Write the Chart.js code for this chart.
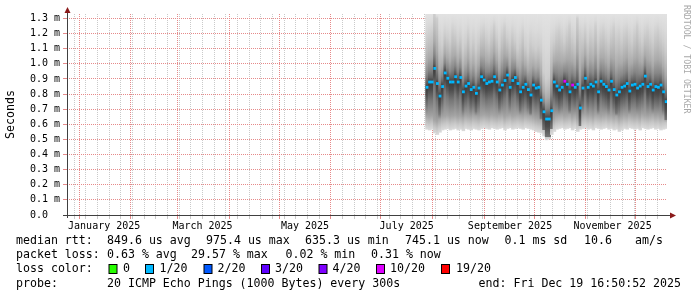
<!DOCTYPE html>
<html>
<head>
<meta charset="utf-8">
<script src="https://cdn.jsdelivr.net/npm/chart.js@4"></script>
<style>
  html, body { margin: 0; padding: 0; background: #fff; }
  canvas { display: block; }
</style>
</head>
<body>
<canvas id="grafico" width="697" height="297"></canvas>
<script>
// median rtt per bucket (ms), from Jul 28 to Dec 19 2025
const medianRtt = [
  0.845, 0.88, 0.88, 0.97, 0.87, 0.787, 0.85, 0.94, 0.905, 0.88, 0.88, 0.915, 0.88, 0.91, 0.815, 0.853, 0.87, 0.83, 0.845, 0.805, 0.84, 0.915,
  0.893, 0.87, 0.88, 0.885, 0.915, 0.88, 0.827, 0.86, 0.89, 0.926, 0.845, 0.89, 0.91, 0.87, 0.815, 0.845, 0.865, 0.83, 0.794, 0.86, 0.84, 0.845, 0.76,
  0.683, 0.635, 0.635, 0.69, 0.88, 0.853, 0.827, 0.845, 0.885, 0.865, 0.815, 0.86, 0.845, 0.865, 0.708, 0.84, 0.905, 0.845, 0.865, 0.853, 0.88, 0.815, 0.885, 0.865, 0.85, 0.827,
  0.885, 0.83, 0.794, 0.815, 0.845, 0.853, 0.87, 0.82, 0.86, 0.865, 0.84, 0.853, 0.865, 0.919, 0.85, 0.865, 0.827, 0.85, 0.845, 0.86, 0.815, 0.75
];
// lost pings (out of 20) for each bucket
const lossPings = [
  1, 1, 1, 1, 1, 1, 1, 1, 1, 1, 1, 1, 1, 1, 1, 1, 1, 1, 1, 1, 1, 1,
  1, 1, 1, 1, 1, 1, 1, 1, 1, 1, 1, 1, 1, 1, 1, 1, 1, 1, 1, 1, 1, 1, 1,
  1, 1, 1, 1, 1, 1, 1, 1, 10, 1, 1, 10, 1, 1, 1, 1, 1, 1, 1, 1, 1, 1, 1, 1, 1, 1,
  1, 1, 1, 1, 1, 1, 1, 1, 1, 1, 1, 1, 1, 1, 1, 1, 1, 1, 1, 1, 1, 1
];
// lowest ping of each bucket (bottom of the smoke)
const smokeLow = [
  0.565, 0.56, 0.565, 0.54, 0.53, 0.545, 0.56, 0.565, 0.57, 0.56, 0.565,
  0.57, 0.56, 0.565, 0.555, 0.57, 0.565, 0.56, 0.57, 0.565, 0.56, 0.57,
  0.575, 0.57, 0.565, 0.575, 0.57, 0.565, 0.57, 0.575, 0.56, 0.57, 0.575,
  0.565, 0.57, 0.575, 0.57, 0.565, 0.575, 0.57, 0.565, 0.56, 0.55, 0.545,
  0.54, 0.52, 0.495, 0.5, 0.53, 0.55,
  0.565, 0.57, 0.575, 0.565, 0.57, 0.575, 0.56, 0.57, 0.55, 0.565, 0.57, 0.575, 0.565,
  0.57, 0.56, 0.575, 0.57, 0.565, 0.57, 0.575, 0.565, 0.57, 0.56, 0.565, 0.55,
  0.56, 0.57, 0.565, 0.575, 0.57, 0.565, 0.57, 0.56, 0.575, 0.57, 0.565, 0.57, 0.575, 0.565, 0.57, 0.56, 0.565, 0.57
];
// upper edge of the dense part of the smoke
const smokeHigh = [
  1.18, 1.2, 1.22, 1.33, 1.3, 1.15, 1.12, 1.2, 1.18, 1.15, 1.22,
  1.2, 1.15, 1.18, 1.1, 1.14, 1.2, 1.12, 1.16, 1.1, 1.15, 1.2,
  1.22, 1.18, 1.15, 1.2, 1.25, 1.18, 1.12, 1.2, 1.24, 1.18, 1.15,
  1.2, 1.16, 1.1, 1.14, 1.2, 1.12, 1.08, 1.15, 1.12, 1.1, 1.12,
  1.1, 0.95, 0.9, 0.92, 1.12, 1.15,
  1.2, 1.22, 1.18, 1.15, 1.2, 1.25, 1.18, 1.15, 1.3, 1.2, 1.18, 1.22, 1.15,
  1.2, 1.18, 1.25, 1.15, 1.2, 1.22, 1.18, 1.15, 1.2, 1.24, 1.18, 1.2,
  1.16, 1.2, 1.22, 1.18, 1.15, 1.2, 1.25, 1.18, 1.15, 1.2, 1.22, 1.18, 1.15, 1.2, 1.22, 1.18, 1.15, 1.1
];

const firstDay = 208.7;   // days after Jan 1 2025
const stepDays = 1.56;
const dayMin = -7.3;      // 360 days ending Dec 19 16:50
const dayMax = 352.7;
const yMax = 1.33;
const yTicks = [0, 0.1, 0.2, 0.3, 0.4, 0.5, 0.6, 0.7, 0.8, 0.9, 1.0, 1.1, 1.2, 1.3];
const monthStarts = [0, 31, 59, 90, 120, 151, 181, 212, 243, 273, 304, 334];
const monthLabels = ['January 2025', 'March 2025', 'May 2025', 'July 2025', 'September 2025', 'November 2025'];
const labelDays = [15, 74, 135.5, 196.5, 258.5, 320];
const firstSunday = -3;

const lossColors = { 0: '#26ff00', 1: '#00b8ff', 2: '#0059ff', 3: '#5e00ff', 4: '#7e00ff', 10: '#dd00ff', 19: '#ff0000' };
const lossLegend = ['0', '1/20', '2/20', '3/20', '4/20', '10/20', '19/20'];
const lossLegendKeys = [0, 1, 2, 3, 4, 10, 19];

const MONO = '"DejaVu Sans Mono", monospace';
const MGRID = '#e68a8a';
const GRID = '#cacaca';

const dayX = i => firstDay + i * stepDays;

// x ticks: weekly minor lines, then month lines, then label-only ticks
const xTicks = [];
for (let d = firstSunday; d <= dayMax; d += 7) {
    if (!monthStarts.includes(d)) xTicks.push({ value: d, kind: 'week' });
}
monthStarts.forEach(d => xTicks.push({ value: d + 0.001, kind: 'month' }));
labelDays.forEach((d, k) => xTicks.push({ value: d + 0.01, kind: 'label', text: monthLabels[k] }));
xTicks.sort((a, b) => a.value - b.value);

function smokeFill(c) {
    const chart = c.chart;
    const y = chart.scales.y;
    if (!y || c.type !== 'data' || !chart.chartArea) return '#c8c8c8';
    const i = c.dataIndex;
    const lo = smokeLow[i], hi = smokeHigh[i], med = medianRtt[i];
    const top = y.getPixelForValue(yMax);
    const bot = y.getPixelForValue(lo);
    const g = chart.ctx.createLinearGradient(0, top, 0, bot);
    const stops = [
        [yMax, 226],
        [hi + (yMax - hi) * 0.5, 218],
        [hi, 206],
        [med + (hi - med) * 0.75, 190],
        [med + (hi - med) * 0.5, 170],
        [med + (hi - med) * 0.25, 134],
        [med + 0.03, 96],
        [med, 60],
        [med - 0.05, 76],
        [med - 0.12, 118],
        [lo + 0.09, 164],
        [lo + 0.04, 198],
        [lo, 220]
    ];
    let last = 0;
    stops.forEach(([v, col]) => {
        let f = (y.getPixelForValue(v) - top) / (bot - top);
        f = Math.min(1, Math.max(last, f));
        last = f;
        g.addColorStop(f, `rgb(${col},${col},${col})`);
    });
    return g;
}

const decorations = {
    id: 'decorations',
    afterDraw(chart) {
        const ctx = chart.ctx;
        const area = chart.chartArea;
        ctx.save();

        // axes + arrows
        ctx.strokeStyle = '#404040';
        ctx.lineWidth = 1;
        ctx.beginPath();
        ctx.moveTo(area.left + 0.5, area.bottom + 3);
        ctx.lineTo(area.left + 0.5, 10);
        ctx.moveTo(area.left - 4, area.bottom + 0.5);
        ctx.lineTo(area.right + 4, area.bottom + 0.5);
        ctx.stroke();
        ctx.fillStyle = '#8b1a1a';
        ctx.beginPath();
        ctx.moveTo(area.left + 0.5, 7);
        ctx.lineTo(area.left - 2.5, 13);
        ctx.lineTo(area.left + 3.5, 13);
        ctx.closePath();
        ctx.fill();
        ctx.beginPath();
        ctx.moveTo(area.right + 9, area.bottom + 0.5);
        ctx.lineTo(area.right + 3, area.bottom - 2.5);
        ctx.lineTo(area.right + 3, area.bottom + 3.5);
        ctx.closePath();
        ctx.fill();

        // watermark
        ctx.save();
        ctx.translate(686, 5);
        ctx.rotate(Math.PI / 2);
        ctx.font = '8.2px ' + MONO;
        ctx.fillStyle = '#a8a8a8';
        ctx.textBaseline = 'middle';
        ctx.fillText('RRDTOOL / TOBI OETIKER', 0, 0);
        ctx.restore();

        // legend
        ctx.font = '11.6px ' + MONO;
        ctx.fillStyle = '#000';
        ctx.textBaseline = 'middle';
        const put = (t, x, y) => ctx.fillText(t, x, y);
        put('median rtt:', 16, 241);
        put('849.6 us avg', 107, 241);
        put('975.4 us max', 206, 241);
        put('635.3 us min', 305, 241);
        put('745.1 us now', 405, 241);
        put('0.1 ms sd', 504.5, 241);
        put('10.6', 584, 241);
        put('am/s', 635, 241);

        put('packet loss:', 16, 255);
        put('0.63 % avg', 107, 255);
        put('29.57 % max', 191, 255);
        put('0.02 % min', 285.5, 255);
        put('0.31 % now', 371, 255);

        put('loss color:', 16, 269);
        const boxX = [108.5, 145, 203.5, 261, 318.5, 376, 441];
        const textX = [123, 159.5, 217.5, 275, 332.5, 390, 456];
        lossLegend.forEach((t, k) => {
            ctx.fillStyle = '#000';
            ctx.fillRect(boxX[k], 264, 9, 10);
            ctx.fillStyle = lossColors[lossLegendKeys[k]];
            ctx.fillRect(boxX[k] + 1, 265, 7, 8);
            ctx.fillStyle = '#000';
            put(t, textX[k], 269);
        });

        put('probe:', 16, 284);
        put('20 ICMP Echo Pings (1000 Bytes) every 300s', 107, 284);
        ctx.textAlign = 'right';
        put('end: Fri Dec 19 16:50:52 2025', 681, 284);
        ctx.restore();
    }
};

new Chart(document.getElementById('grafico').getContext('2d'), {
    type: 'bar',
    data: {
        datasets: [
            {
                type: 'line',
                order: 1,
                xAxisID: 'xs',
                data: medianRtt.map((v, i) => ({ x: dayX(i), y: v })),
                showLine: false,
                pointStyle: 'rect',
                pointRadius: 2,
                pointHoverRadius: 2,
                pointBorderWidth: 0,
                pointBackgroundColor: lossPings.map(l => lossColors[l])
            },
            {
                order: 2,
                xAxisID: 'xs',
                data: smokeLow.map((lo, i) => ({ x: dayX(i), y: [lo, yMax] })),
                backgroundColor: smokeFill,
                borderWidth: 0,
                barPercentage: 1.35,
                categoryPercentage: 1
            }
        ]
    },
    options: {
        responsive: false,
        animation: false,
        devicePixelRatio: 1,
        layout: { padding: { left: 0, right: 30, top: 14, bottom: 0 } },
        plugins: { legend: { display: false }, tooltip: { enabled: false } },
        scales: {
            xs: {
                type: 'linear',
                position: 'bottom',
                display: false,
                offset: false,
                min: dayMin,
                max: dayMax
            },
            x: {
                type: 'linear',
                position: 'bottom',
                offset: false,
                min: dayMin,
                max: dayMax,
                z: 1,
                afterFit: s => { s.height = 82; },
                afterBuildTicks: s => { s.ticks = xTicks.map(t => ({ ...t })); },
                border: { display: false, dash: [1, 1] },
                grid: {
                    offset: false,
                    lineWidth: 1,
                    tickLength: 4,
                    color: c => {
                        const k = c.tick ? c.tick.kind : null;
                        if (k === 'month') return MGRID;
                        if (k === 'label') return 'rgba(0,0,0,0)';
                        return GRID;
                    }
                },
                ticks: {
                    autoSkip: false,
                    maxRotation: 0,
                    padding: 1,
                    color: '#000',
                    font: { family: MONO, size: 10 },
                    callback: (v, i) => (xTicks[i] && xTicks[i].kind === 'label' ? xTicks[i].text : '')
                }
            },
            y: {
                min: 0,
                max: yMax,
                z: 1,
                afterFit: s => { s.width = 67; },
                afterBuildTicks: s => { s.ticks = yTicks.map(v => ({ value: v })); },
                border: { display: false, dash: [1, 1] },
                grid: { color: MGRID, lineWidth: 1, tickLength: 4 },
                ticks: {
                    padding: 3,
                    color: '#000',
                    font: { family: MONO, size: 10 },
                    callback: v => (v === 0 ? '0.0  ' : v.toFixed(1) + ' m')
                },
                title: {
                    display: true,
                    text: 'Seconds',
                    color: '#000',
                    font: { family: MONO, size: 11.6 },
                    padding: { top: 4, bottom: 0 }
                }
            }
        }
    },
    plugins: [decorations]
});
</script>
</body>
</html>
